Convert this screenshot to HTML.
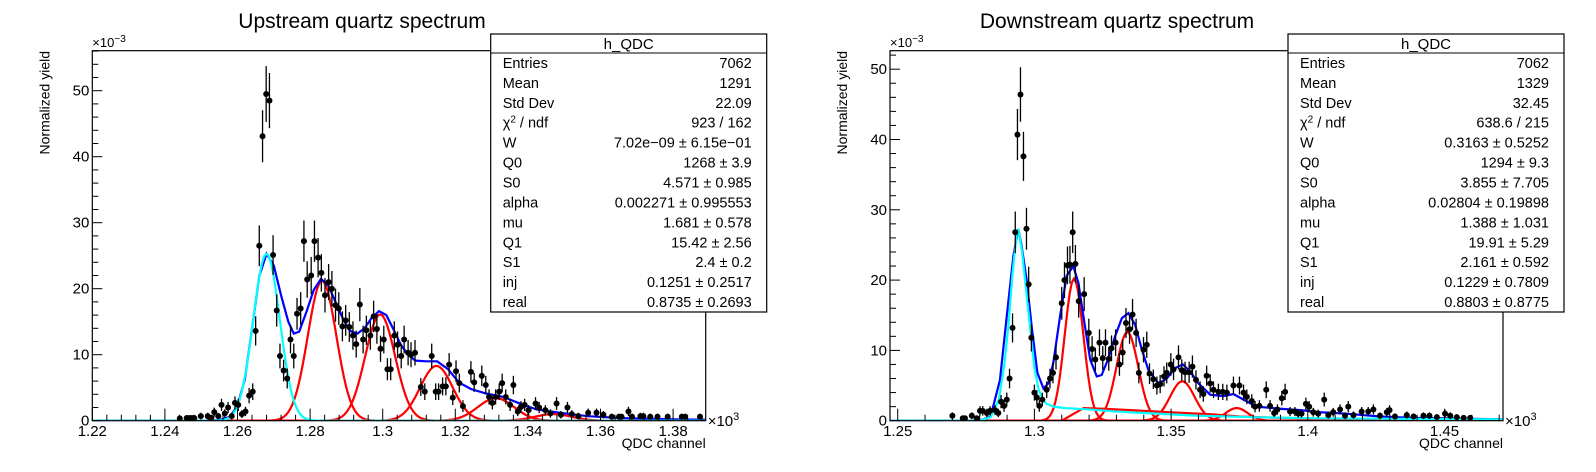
<!DOCTYPE html>
<html><head><meta charset="utf-8"><title>QDC spectra</title>
<style>
html,body{margin:0;padding:0;background:#fff;}
svg{display:block;font-family:"Liberation Sans",sans-serif;}
</style></head>
<body>
<svg id="root" width="1596" height="472" viewBox="0 0 1596 472" xmlns="http://www.w3.org/2000/svg">
<rect x="0" y="0" width="1596" height="472" fill="#fff"/>
</svg>
<script>
// ---------- LEFT (upstream) data ----------
const upX = [1.2441,1.2460,1.2467,1.2474,1.2481,1.2499,1.2518,1.2528,1.2536,1.2547,1.2556,1.2565,1.2574,1.2584,1.2593,1.2602,1.2612,1.2622,1.2632,1.2642,1.2650,1.2660,1.2669,1.2679,1.2688,1.2698,1.2708,1.2717,1.2727,1.2737,1.2746,1.2755,1.2764,1.2774,1.2783,1.2792,1.2803,1.2812,1.2822,1.2831,1.2841,1.2851,1.2860,1.2870,1.2879,1.2889,1.2898,1.2908,1.2918,1.2927,1.2937,1.2946,1.2955,1.2966,1.2975,1.2984,1.2994,1.3003,1.3013,1.3022,1.3032,1.3041,1.3051,1.3059,1.3070,1.3078,1.3089,1.3105,1.3116,1.3135,1.3146,1.3154,1.3165,1.3174,1.3183,1.3193,1.3202,1.3211,1.3221,1.3243,1.3252,1.3273,1.3284,1.3293,1.3302,1.3311,1.3321,1.3329,1.3339,1.3351,1.3360,1.3372,1.3381,1.3391,1.3402,1.3421,1.3431,1.3448,1.3462,1.3479,1.3491,1.3509,1.3521,1.3539,1.3566,1.3589,1.3608,1.3631,1.3651,1.3658,1.3677,1.3687,1.3710,1.3718,1.3737,1.3757,1.3785,1.3824,1.3833,1.3874];
const upY = [0.36,0.4,0.4,0.4,0.4,0.7,0.7,0.45,1.3,0.7,2.4,1.1,2.0,0.7,2.7,2.4,1.0,1.4,3.8,4.4,13.6,26.5,43.1,49.5,48.5,25.1,16.7,9.8,7.6,6.4,12.3,9.8,16.2,17.0,27.2,21.4,22.0,27.2,24.7,22.4,19.0,21.0,20.0,17.5,17.0,14.3,15.2,14.2,12.9,11.6,17.6,12.3,13.7,12.9,15.8,13.9,10.9,12.3,7.8,7.8,12.9,11.5,9.8,12.3,10.3,10.0,10.3,5.1,4.4,9.8,4.4,4.4,5.2,5.2,8.5,3.5,7.5,5.7,2.2,7.4,5.8,6.8,5.4,3.6,2.7,3.6,4.4,5.7,3.6,2.4,5.4,1.4,2.1,2.4,1.6,2.6,2.0,1.6,1.1,2.6,0.9,2.0,1.0,0.7,1.2,1.2,0.9,0.6,0.6,0.6,1.4,0.6,0.7,0.7,0.6,0.6,0.6,0.6,0.6,0.6];
const upTotalX = [1.2200,1.2500,1.2550,1.2580,1.2600,1.2620,1.2640,1.2660,1.2680,1.2700,1.2720,1.2740,1.2755,1.2770,1.2790,1.2810,1.2830,1.2850,1.2870,1.2890,1.2910,1.2930,1.2950,1.2970,1.2990,1.3010,1.3030,1.3050,1.3070,1.3090,1.3120,1.3150,1.3180,1.3210,1.3243,1.3286,1.3332,1.3378,1.3424,1.3489,1.3562,1.3654,1.3800,1.3890];
const upTotalY = [0,0,0.1,0.6,2.3,6.2,13.9,21.9,25.3,23.5,19,15,13.2,13.5,16.5,19.8,21.5,20.5,18,15.5,13.6,13.2,14,15.6,16.6,16.0,13.8,11.5,10,9.1,9.0,9.0,7.8,5.8,4.8,4.1,3.6,2.6,1.7,1.2,0.7,0.4,0.2,0.15];
const upCyan = [1.2680,25.3,0.00365];            // mean, amplitude, sigma
const upRedMean = [1.2833,1.2993,1.3148,1.3312,1.3470];
const upRedAmp  = [21.2,16.1,8.3,3.4,1.0];
const upRedSig  = [0.00394,0.00413,0.0045,0.005,0.005];
const upXTicks = ["1.22","1.24","1.26","1.28","1.3","1.32","1.34","1.36","1.38"];
const upYTicks = ["0","10","20","30","40","50"];
const upStats = [["Entries","7062"],["Mean","1291"],["Std Dev","22.09"],["chi","923 / 162"],["W","7.02e\u221209 \u00b1 6.15e\u221201"],["Q0","1268 \u00b1 3.9"],["S0","4.571 \u00b1 0.985"],["alpha","0.002271 \u00b1 0.995553"],["mu","1.681 \u00b1 0.578"],["Q1","15.42 \u00b1 2.56"],["S1","2.4 \u00b1 0.2"],["inj","0.1251 \u00b1 0.2517"],["real","0.8735 \u00b1 0.2693"]];

// ---------- RIGHT (downstream) data ----------
const dnX = [1.2700,1.2738,1.2746,1.2771,1.2789,1.2801,1.2811,1.2826,1.2838,1.2856,1.2868,1.2878,1.2889,1.2899,1.2909,1.2920,1.2930,1.2938,1.2949,1.2960,1.2971,1.2979,1.2989,1.3000,1.3009,1.3018,1.3029,1.3045,1.3057,1.3068,1.3079,1.3100,1.3110,1.3121,1.3130,1.3140,1.3150,1.3162,1.3182,1.3199,1.3211,1.3223,1.3238,1.3250,1.3260,1.3272,1.3282,1.3297,1.3311,1.3323,1.3335,1.3348,1.3359,1.3372,1.3382,1.3399,1.3411,1.3421,1.3435,1.3448,1.3460,1.3474,1.3484,1.3499,1.3509,1.3527,1.3539,1.3551,1.3566,1.3578,1.3591,1.3606,1.3618,1.3630,1.3643,1.3655,1.3673,1.3689,1.3704,1.3728,1.3750,1.3765,1.3777,1.3795,1.3807,1.3823,1.3848,1.3862,1.3877,1.3889,1.3905,1.3917,1.3935,1.3953,1.3965,1.3977,1.3993,1.4005,1.4020,1.4038,1.4060,1.4075,1.4093,1.4118,1.4136,1.4148,1.4167,1.4197,1.4221,1.4240,1.4264,1.4289,1.4299,1.4319,1.4362,1.4387,1.4423,1.4445,1.4472,1.4502,1.4521,1.4545,1.4570,1.4594];
const dnY = [0.7,0.35,0.35,0.7,0.35,1.4,1.4,1.1,1.4,1.5,1.1,2.7,2.1,3.0,6.0,13.2,26.8,40.7,46.4,37.6,27.3,19.4,11.8,4.0,3.3,2.1,3.0,4.4,6.0,6.8,9.0,16.7,20.0,22.1,22.2,26.8,22.3,17.0,18.0,12.5,10.2,8.7,11.1,8.9,11.1,8.8,10.3,11.1,8.0,9.7,13.9,13.0,15.1,12.5,6.8,10.1,10.8,6.7,5.9,5.0,5.2,6.3,6.8,8.0,7.3,9.0,7.2,6.9,6.9,7.7,5.8,4.4,3.8,6.4,5.3,4.4,4.1,4.1,4.0,5.0,5.0,4.0,3.4,2.8,2.0,2.1,4.4,2.1,1.1,1.6,3.2,4.1,1.3,1.3,1.0,1.0,2.4,2.0,1.2,1.0,3.0,0.8,1.2,1.6,0.7,2.0,0.8,1.3,1.3,1.6,0.7,1.2,1.5,0.6,0.8,0.6,0.7,0.7,0.5,1.0,0.7,0.5,0.4,0.4];
const dnTotalX = [1.2472,1.2800,1.2840,1.2874,1.2899,1.2923,1.2941,1.2953,1.2972,1.2990,1.3011,1.3033,1.3051,1.3069,1.3094,1.3118,1.3142,1.3161,1.3179,1.3204,1.3228,1.3246,1.3271,1.3295,1.3320,1.3344,1.3368,1.3393,1.3417,1.3454,1.3484,1.3515,1.3543,1.3570,1.3600,1.3643,1.3691,1.3728,1.3765,1.3813,1.3899,1.3972,1.4045,1.4142,1.4264,1.4386,1.4714];
const dnTotalY = [0,0,0.6,5.8,14.9,23.4,27.3,24.9,19.9,13.4,6.8,4.6,5.3,8.2,14.9,20.6,22.0,19.6,14.9,8.7,6.3,6.5,8.9,12.0,14.6,15.3,13.7,10.1,7.2,5.3,6.0,7.5,8.0,7.0,5.3,3.7,3.5,3.8,3.0,2.0,1.7,1.5,1.2,1.0,0.6,0.4,0.2];
const dnCyanX = [1.2472,1.2800,1.2840,1.2870,1.2890,1.2905,1.2920,1.2935,1.2941,1.2955,1.2970,1.2985,1.3000,1.3015,1.3030,1.3045,1.3070,1.3110,1.3200,1.3300,1.3400,1.3500,1.3600,1.3800,1.4000,1.4400,1.4714];
const dnCyanY = [0,0,0.5,3,8,13.6,21,26.5,27.3,24,18.5,13,7.5,4.5,3.0,2.4,2.0,1.8,1.6,1.3,1.1,0.9,0.7,0.5,0.35,0.25,0.2];
const dnRedMean = [1.3145,1.3340,1.3541,1.3740];
const dnRedAmp  = [20.2,12.6,5.6,1.8];
const dnRedSig  = [0.0034,0.0040,0.0045,0.0040];
const dnRedTailX = [1.3100,1.3180,1.3250,1.3350,1.3450,1.3550,1.3650,1.3750,1.3900,1.4100,1.4714];
const dnRedTailY = [0,1.8,1.7,1.5,1.3,1.1,0.9,0.6,0.4,0.25,0.1];
const dnXTicks = ["1.25","1.3","1.35","1.4","1.45"];
const dnYTicks = ["0","10","20","30","40","50"];
const dnStats = [["Entries","7062"],["Mean","1329"],["Std Dev","32.45"],["chi","638.6 / 215"],["W","0.3163 \u00b1 0.5252"],["Q0","1294 \u00b1 9.3"],["S0","3.855 \u00b1 7.705"],["alpha","0.02804 \u00b1 0.19898"],["mu","1.388 \u00b1 1.031"],["Q1","19.91 \u00b1 5.29"],["S1","2.161 \u00b1 0.592"],["inj","0.1229 \u00b1 0.7809"],["real","0.8803 \u00b1 0.8775"]];

const NS = "http://www.w3.org/2000/svg";
const root = document.getElementById("root");
function mk(tag, parent, attrs){
  const e = document.createElementNS(NS, tag);
  for (const k in attrs) e.setAttribute(k, attrs[k]);
  parent.appendChild(e);
  return e;
}

function drawPanel(cfg){
  const g = mk("g", root, {});
  
  
  const X = v => cfg.fx0 + (v - cfg.xmin) * (cfg.fx1 - cfg.fx0) / (cfg.xmax - cfg.xmin);
  const Y = v => cfg.fy1 - v * (cfg.fy1 - cfg.fy0) / cfg.ymax;

  const t = mk("text", g, {x: cfg.titleX, y: 28, "font-size": 21, "text-anchor": "middle", fill: "#000"});
  t.textContent = cfg.title;
  
  

  const cp = mk("clipPath", g, {id: cfg.name + "-clip"});
  mk("rect", cp, {x: cfg.fx0, y: cfg.fy0, width: cfg.fx1 - cfg.fx0, height: cfg.fy1 - cfg.fy0});
  const plot = mk("g", g, {"clip-path": "url(#" + cfg.name + "-clip)"});
  
  

  const xt = mk("g", g, {stroke: "#000", "stroke-width": 1});
  
  
  const first = parseFloat(cfg.xTicks[0]);
  const minorStep = cfg.xMajor / 5;
  for (let v = first - 5 * minorStep; v <= cfg.xmax + 1e-9; v += minorStep) {
    if (v < cfg.xmin - 1e-9) continue;
    const k = Math.round((v - first) / minorStep);
    const len = (k % 5 === 0) ? 12 : 6;
    mk("line", xt, {x1: X(v), x2: X(v), y1: cfg.fy1, y2: cfg.fy1 - len});
  }
  cfg.xTicks.forEach(s => {
    const lab = mk("text", g, {x: X(parseFloat(s)), y: 436, "font-size": 15, "text-anchor": "middle", fill: "#000"});
    lab.textContent = s;
    
    
  });
  const yt = mk("g", g, {stroke: "#000", "stroke-width": 1});
  
  
  for (let v = 0; v <= cfg.ymax; v += 2) {
    const len = (v % 10 === 0) ? 10 : 6;
    mk("line", yt, {x1: cfg.fx0, x2: cfg.fx0 + len, y1: Y(v), y2: Y(v)});
  }
  cfg.yTicks.forEach(s => {
    const lab = mk("text", g, {x: cfg.fx0 - 3, y: Y(parseFloat(s)) + 5, "font-size": 15, "text-anchor": "end", fill: "#000"});
    lab.textContent = s;
    
    
  });

  function poly(xs, ys, color, name){
    const p = mk("polyline", plot, {points: xs.map((x,i)=>X(x).toFixed(2)+","+Y(ys[i]).toFixed(2)).join(" "), fill: "none", stroke: color, "stroke-width": 2.2});
    
    
  }
  function gauss(m, a, s, color, name){
    const xs = [], ys = [];
    for (let i = 0; i <= 300; i++) {
      const x = cfg.xmin + (cfg.xmax - cfg.xmin) * i / 300;
      xs.push(x); ys.push(a * Math.exp(-0.5 * ((x - m) / s) ** 2));
    }
    poly(xs, ys, color, name);
  }
  cfg.drawCurves(poly, gauss);

  const pts = mk("g", plot, {});
  
  
  cfg.px.forEach((x, i) => {
    const y = cfg.py[i];
    const err = cfg.errK * Math.sqrt(y);
    const l = mk("line", pts, {x1: X(x), x2: X(x), y1: Y(y + err), y2: Y(Math.max(0, y - err)), stroke: "#000", "stroke-width": 1.3});
    
    
    const c = mk("circle", pts, {cx: X(x), cy: Y(y), r: 3, fill: "#000"});
    
    
  });

  const fr = mk("rect", g, {x: cfg.fx0, y: cfg.fy0, width: cfg.fx1 - cfg.fx0, height: cfg.fy1 - cfg.fy0, fill: "none", stroke: "#000", "stroke-width": 1.2});
  
  

  const e1 = mk("text", g, {x: cfg.fx0, y: 47, "font-size": 13, fill: "#000"});
  e1.innerHTML = '\u00d710<tspan dy="-5" font-size="10">\u22123</tspan>';
  
  
  const e2 = mk("text", g, {x: cfg.fx1 + 2, y: 426, "font-size": 15, fill: "#000"});
  e2.innerHTML = '\u00d710<tspan dy="-6" font-size="11">3</tspan>';
  
  

  const xa = mk("text", g, {x: cfg.fx1, y: 448, "font-size": 14, "text-anchor": "end", fill: "#000"});
  xa.textContent = "QDC channel";
  
  
  const ya = mk("text", g, {x: 0, y: 0, "font-size": 14, "text-anchor": "end", fill: "#000", transform: "translate(" + (cfg.fx0 - 43) + ",51) rotate(-90)"});
  ya.textContent = "Normalized yield";
  
  

  const sb = mk("g", g, {});
  
  
  const bx0 = cfg.boxX0, bx1 = cfg.boxX1, by0 = 34, by1 = 312;
  mk("rect", sb, {x: bx0, y: by0, width: bx1 - bx0, height: by1 - by0, fill: "#fff", stroke: "#000", "stroke-width": 1.2});
  mk("line", sb, {x1: bx0, x2: bx1, y1: 53, y2: 53, stroke: "#000", "stroke-width": 1});
  const h = mk("text", sb, {x: (bx0 + bx1) / 2, y: 49, "font-size": 15, "text-anchor": "middle", fill: "#000"});
  h.textContent = "h_QDC";
  
  
  const rowH = (by1 - 53) / cfg.stats.length;
  cfg.stats.forEach((r, i) => {
    const yb = 53 + rowH * (i + 0.5) + 5;
    const l = mk("text", sb, {x: bx0 + 12, y: yb, "font-size": 14.5, fill: "#000"});
    if (r[0] === "chi") l.innerHTML = '\u03c7<tspan dy="-5" font-size="10">2</tspan><tspan dy="5"> / ndf</tspan>';
    else l.textContent = r[0];
    
    
    const v = mk("text", sb, {x: bx1 - 15, y: yb, "font-size": 14.5, "text-anchor": "end", fill: "#000"});
    v.textContent = r[1];
    
    
  });
}

drawPanel({
  name: "upstream-panel", title: "Upstream quartz spectrum", titleX: 362,
  fx0: 92.3, fx1: 705.7, fy0: 50.7, fy1: 420.7,
  xmin: 1.22, xmax: 1.38898, ymax: 56.06, xMajor: 0.02,
  xTicks: upXTicks, yTicks: upYTicks, px: upX, py: upY, errK: 0.6,
  boxX0: 490.7, boxX1: 766.7, stats: upStats,
  drawCurves: (poly, gauss) => {
    poly([1.25, 1.38898], [0, 0], "#f00", "red-baseline");
    upRedMean.forEach((m, i) => gauss(m, upRedAmp[i], upRedSig[i], "#f00", "red-component"));
    poly(upTotalX, upTotalY, "#00f", "blue-total-fit");
    gauss(upCyan[0], upCyan[1], upCyan[2], "#0ff", "cyan-pedestal");
  }
});
drawPanel({
  name: "downstream-panel", title: "Downstream quartz spectrum", titleX: 1117,
  fx0: 890, fx1: 1503, fy0: 50.7, fy1: 420.7,
  xmin: 1.24718, xmax: 1.4714, ymax: 52.63, xMajor: 0.05,
  xTicks: dnXTicks, yTicks: dnYTicks, px: dnX, py: dnY, errK: 0.57,
  boxX0: 1288, boxX1: 1564, stats: dnStats,
  drawCurves: (poly, gauss) => {
    poly([1.28, 1.4714], [0, 0], "#f00", "red-baseline");
    poly(dnRedTailX, dnRedTailY, "#f00", "red-tail");
    dnRedMean.forEach((m, i) => gauss(m, dnRedAmp[i], dnRedSig[i], "#f00", "red-component"));
    poly(dnTotalX, dnTotalY, "#00f", "blue-total-fit");
    poly(dnCyanX, dnCyanY, "#0ff", "cyan-pedestal");
  }
});
</script>
</body></html>
